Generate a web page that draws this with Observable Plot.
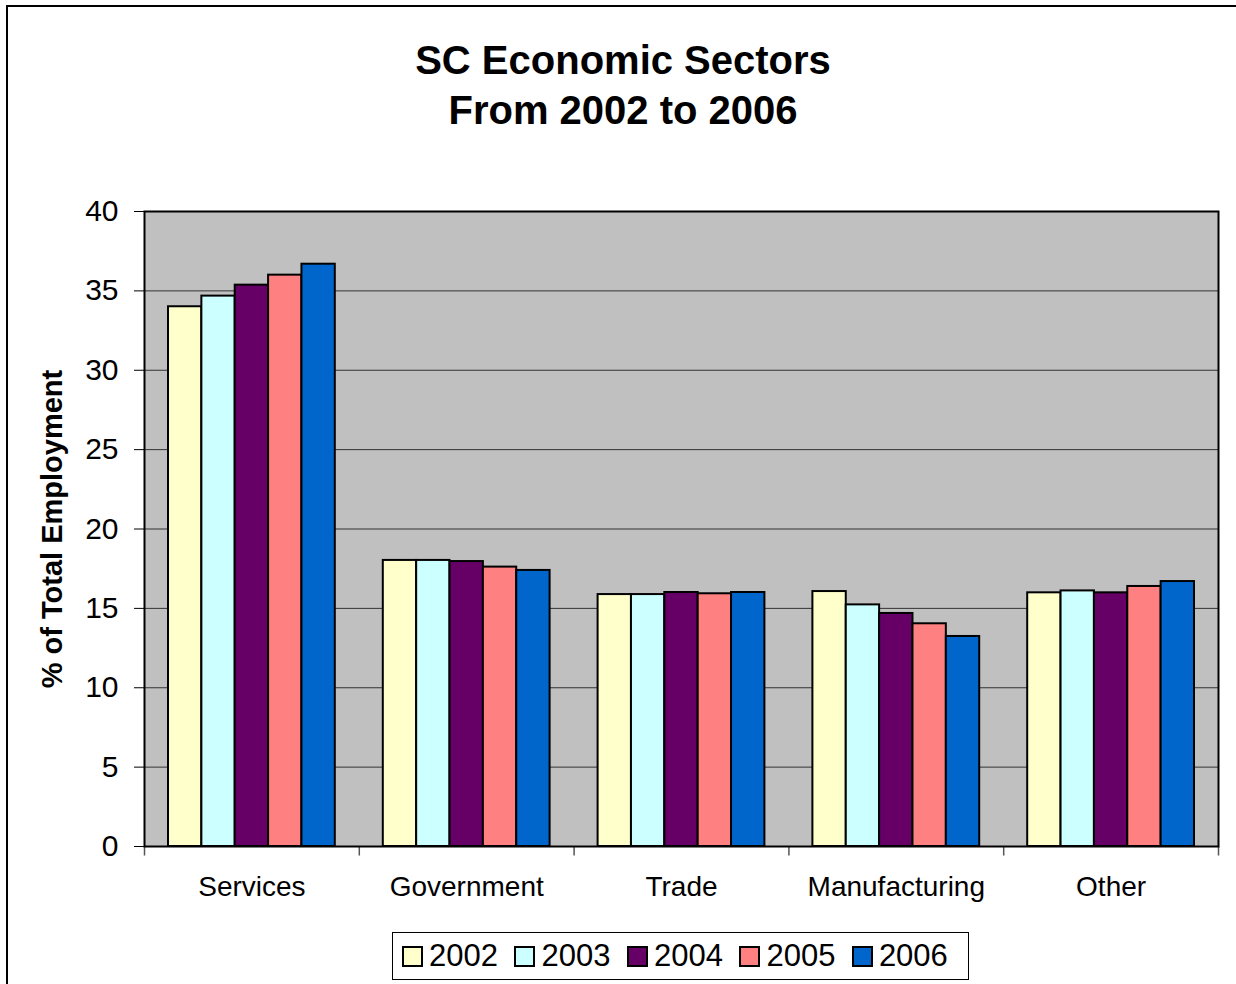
<!DOCTYPE html>
<html>
<head>
<meta charset="utf-8">
<script src="https://cdn.jsdelivr.net/npm/d3@7"></script>
<script src="https://cdn.jsdelivr.net/npm/@observablehq/plot@0.6"></script>
<style>
  html, body { margin: 0; padding: 0; background: #fff; }
  body { width: 1236px; height: 984px; position: relative; overflow: hidden; font-family: "Liberation Sans", Arial, sans-serif; }
  #border { position: absolute; left: 6px; top: 5px; width: 1300px; height: 1100px; border-top: 2px solid #000; border-left: 2px solid #000; pointer-events: none; }
  #title { position: absolute; left: 10px; top: 35px; width: 1226px; text-align: center; font-weight: bold; font-size: 40px; line-height: 50px; color: #000; }
  #chart { position: absolute; left: 0; top: 140px; }
  #legend { position: absolute; left: 392px; top: 932px; width: 566px; height: 46px; border: 1px solid #000; display: flex; align-items: center; padding-left: 9px; column-gap: 16.5px; }
  .item { display: flex; align-items: center; font-size: 31px; color: #000; white-space: nowrap; }
  .sw { width: 17px; height: 17px; border: 2px solid #000; margin-right: 6px; }
</style>
</head>
<body>
<div id="border"></div>
<div id="title">SC Economic Sectors<br>From 2002 to 2006</div>
<div id="chart"></div>
<div id="legend"></div>
<script>
const categories = ["Services", "Government", "Trade", "Manufacturing", "Other"];
const years = ["2002", "2003", "2004", "2005", "2006"];
const colors = ["#FFFFCC", "#CCFFFF", "#660066", "#FF8080", "#0066CC"];
const v2002 = [34.0, 18.02, 15.87, 16.06, 15.98];
const v2003 = [34.67, 18.02, 15.87, 15.22, 16.1];
const v2004 = [35.36, 17.95, 16.0, 14.68, 15.98];
const v2005 = [35.99, 17.6, 15.92, 14.03, 16.38];
const v2006 = [36.68, 17.39, 16.0, 13.23, 16.69];
const yTicks = [0, 5, 10, 15, 20, 25, 30, 35, 40];

const series = [v2002, v2003, v2004, v2005, v2006];
const rows = [];
years.forEach((yr, j) => categories.forEach((c, i) => rows.push({category: c, year: yr, value: series[j][i]})));

const W = 1236, H = 780;
const mL = 144, mR = 18, mT = 71, mB = 74;
const bw = (W - mL - mR) / categories.length;
const pad = 24;
const barW = (bw - 2 * pad) / years.length;

const barMarks = years.map((yr, j) => Plot.barY(rows.filter(r => r.year === yr), {
  x: "category", y: "value", fill: "year", stroke: "#000", strokeWidth: 2,
  insetLeft: pad + j * barW, insetRight: bw - pad - (j + 1) * barW
}));

const plot = Plot.plot({
  width: W, height: H,
  marginLeft: mL, marginRight: mR, marginTop: mT, marginBottom: mB,
  style: {fontFamily: "'Liberation Sans', Arial, sans-serif", fontSize: "28px", color: "#000", background: "transparent"},
  x: {domain: categories, padding: 0, round: false, tickSize: 0, tickPadding: 30, label: null},
  y: {domain: [0, 40], ticks: yTicks, tickSize: 10, tickPadding: 16, label: null},
  color: {domain: years, range: colors},
  marks: [
    Plot.frame({fill: "#C0C0C0"}),
    Plot.ruleY(yTicks.filter(t => t > 0 && t < 40), {stroke: "#333", strokeWidth: 1}),
    ...barMarks,
    Plot.ruleX(categories, {x: d => d, y1: 0, y2: -0.6, dx: -bw / 2, stroke: "#555", strokeWidth: 1.5}),
    Plot.ruleX([categories[categories.length - 1]], {x: d => d, y1: 0, y2: -0.6, dx: bw / 2, stroke: "#555", strokeWidth: 1.5}),
    Plot.frame({stroke: "#000", strokeWidth: 2}),
    Plot.text(["% of Total Employment"], {frameAnchor: "left", textAnchor: "middle", dx: -92, rotate: -90, fontWeight: "bold", fontSize: 29, fill: "#000", text: d => d})
  ]
});
plot.querySelectorAll("g[aria-label='y-axis tick label'] text, g[aria-label='y-axis'] text").forEach(t => t.setAttribute("font-size", "30"));
document.getElementById("chart").appendChild(plot);

const legend = document.getElementById("legend");
years.forEach((yr, j) => {
  const it = document.createElement("div");
  it.className = "item";
  const sw = document.createElement("div");
  sw.className = "sw";
  sw.style.background = colors[j];
  it.appendChild(sw);
  it.appendChild(document.createTextNode(yr));
  legend.appendChild(it);
});
</script>
</body>
</html>
